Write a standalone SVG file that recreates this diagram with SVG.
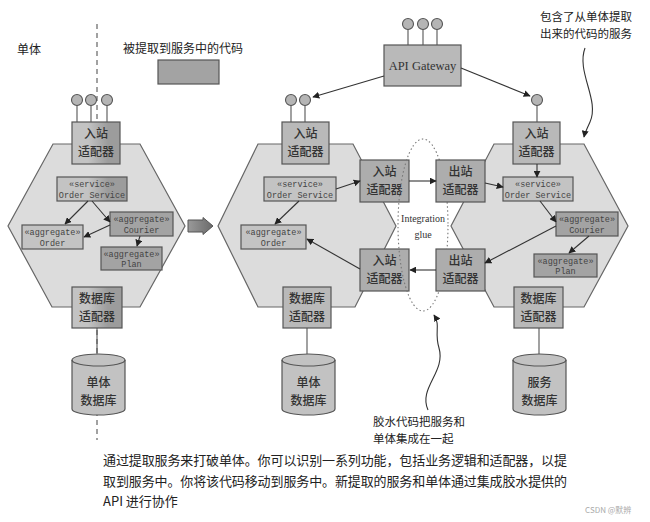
<svg xmlns="http://www.w3.org/2000/svg" width="650" height="522" viewBox="0 0 650 522">
<defs>
<style>
.hex{fill:#dcdcdc;stroke:#666;stroke-width:1.2}
.ad{fill:#b9b9b9;stroke:#555;stroke-width:1.2}
.adg{fill:#adadad;stroke:#555;stroke-width:1.2}
.bx{fill:#c3c3c3;stroke:#555;stroke-width:1.2}
.bxd{fill:#a3a3a3;stroke:#555;stroke-width:1.2}
.db{fill:#c2c2c2;stroke:#555;stroke-width:1.2}
.cn{fill:none;stroke:#333;stroke-width:1.1}
.stem{stroke:#555;stroke-width:1.1}
.lol{fill:#b5b5b5;stroke:#555;stroke-width:1.1}
.zh{font-family:"Noto Sans CJK SC","Noto Sans",sans-serif;fill:#222}
.ada{font-family:"Noto Sans CJK SC","Noto Sans",sans-serif;font-size:12px;font-weight:500;fill:#333;text-anchor:middle}
.mono{font-family:"Liberation Mono",monospace;font-size:8.5px;fill:#444;text-anchor:middle}
.ser{font-family:"Liberation Serif",serif;fill:#333;text-anchor:middle}
</style>
<marker id="ah" viewBox="0 0 10 10" refX="9" refY="5" markerWidth="7" markerHeight="7" markerUnits="userSpaceOnUse" orient="auto">
<path d="M0,0 L10,5 L0,10 z" fill="#222"/>
</marker>
<linearGradient id="split" gradientUnits="userSpaceOnUse" x1="88" y1="0" x2="108" y2="0">
<stop offset="0" stop-color="#c3c3c3"/>
<stop offset="1" stop-color="#9c9c9c"/>
</linearGradient>
<linearGradient id="bigarr" x1="0" y1="0" x2="1" y2="0">
<stop offset="0" stop-color="#9a9a9a"/>
<stop offset="1" stop-color="#6a6a6a"/>
</linearGradient>
</defs>
<rect width="650" height="522" fill="#ffffff"/>

<!-- legend / titles -->
<g id="title-monolith"><text class="zh" x="17" y="54" font-size="12">单体</text></g>
<g id="legend">
<text class="zh" x="123" y="53" font-size="12">被提取到服务中的代码</text>
<rect x="158" y="60" width="61" height="24" class="bxd" fill="#999"/>
</g>

<!-- dashed split line -->
<line x1="97" y1="24" x2="97" y2="440" stroke="#555" stroke-width="1.1" stroke-dasharray="5,4"/>

<!-- left monolith -->
<g id="monolith-before">
<polygon class="hex" points="53,144 140,144 185,226 140,307 52,307 8,226"/>
</g>
<g id="m1-inbound">
<line class="stem" x1="77" y1="105" x2="77" y2="122"/>
<line class="stem" x1="91" y1="105" x2="91" y2="122"/>
<line class="stem" x1="107" y1="105" x2="107" y2="122"/>
<circle class="lol" cx="77" cy="100" r="5.5"/>
<circle class="lol" cx="91" cy="100" r="5.5"/>
<circle class="lol" cx="107" cy="100" r="5.5"/>
<rect x="72" y="122" width="48" height="42" fill="url(#split)" stroke="#555" stroke-width="1.2"/>
<text class="ada" x="96" y="138">入站</text>
<text class="ada" x="96" y="156">适配器</text>
</g>
<g id="m1-service">
<rect x="57" y="177" width="70" height="24" fill="url(#split)" stroke="#555" stroke-width="1.2"/>
<text class="mono" x="92" y="187">«service»</text>
<text class="mono" x="92" y="198">Order Service</text>
</g>
<g id="m1-order">
<rect class="bx" x="22" y="225" width="61" height="24"/>
<text class="mono" x="52.5" y="235">«aggregate»</text>
<text class="mono" x="52.5" y="246">Order</text>
</g>
<g id="m1-courier">
<rect class="bxd" x="110" y="212" width="63" height="24"/>
<text class="mono" x="141.5" y="222">«aggregate»</text>
<text class="mono" x="141.5" y="233">Courier</text>
</g>
<g id="m1-plan">
<rect class="bxd" x="101" y="247" width="61" height="23"/>
<text class="mono" x="131.5" y="257">«aggregate»</text>
<text class="mono" x="131.5" y="267">Plan</text>
</g>
<g id="m1-dbadapter">
<rect x="72" y="287" width="50" height="41" fill="url(#split)" stroke="#555" stroke-width="1.2"/>
<text class="ada" x="97" y="303">数据库</text>
<text class="ada" x="97" y="321">适配器</text>
</g>
<g id="m1-db">
<path class="db" d="M72,360 v49 a26.5,6 0 0 0 53,0 v-49 a26.5,6 0 0 0 -53,0 z"/>
<path d="M72,360 a26.5,6 0 0 0 53,0" fill="none" stroke="#555" stroke-width="1.2"/>
<text class="ada" x="98.5" y="387">单体</text>
<text class="ada" x="98.5" y="405">数据库</text>
</g>

<!-- big arrow -->
<g id="transform-arrow">
<polygon points="188,220 203,220 203,217.5 213,226 203,234.5 203,232 188,232" fill="url(#bigarr)" stroke="#555" stroke-width="1"/>
</g>

<!-- middle monolith -->
<g id="monolith-after">
<polygon class="hex" points="258,144 353,144 396,226 355,307 258,307 218,226"/>
</g>
<g id="m2-inbound">
<line class="stem" x1="291" y1="105" x2="291" y2="122"/>
<line class="stem" x1="305" y1="105" x2="305" y2="122"/>
<circle class="lol" cx="291" cy="100" r="5.5"/>
<circle class="lol" cx="305" cy="100" r="5.5"/>
<rect class="ad" x="282" y="122" width="47" height="42"/>
<text class="ada" x="305.5" y="138">入站</text>
<text class="ada" x="305.5" y="156">适配器</text>
</g>
<g id="m2-service">
<rect class="bx" x="264" y="177" width="72" height="24"/>
<text class="mono" x="300" y="187">«service»</text>
<text class="mono" x="300" y="198">Order Service</text>
</g>
<g id="m2-order">
<rect class="bx" x="241" y="225" width="65" height="24"/>
<text class="mono" x="273.5" y="235">«aggregate»</text>
<text class="mono" x="273.5" y="246">Order</text>
</g>
<g id="m2-dbadapter">
<rect class="ad" x="283" y="287" width="48" height="41"/>
<text class="ada" x="307" y="303">数据库</text>
<text class="ada" x="307" y="321">适配器</text>
</g>
<g id="m2-glue-in-top">
<rect class="adg" x="360" y="160" width="49" height="42"/>
<text class="ada" x="384.5" y="176">入站</text>
<text class="ada" x="384.5" y="194">适配器</text>
</g>
<g id="m2-glue-in-bottom">
<rect class="adg" x="360" y="249" width="49" height="42"/>
<text class="ada" x="384.5" y="265">入站</text>
<text class="ada" x="384.5" y="283">适配器</text>
</g>
<g id="m2-db">
<path class="db" d="M282,360 v49 a26.5,6 0 0 0 53,0 v-49 a26.5,6 0 0 0 -53,0 z"/>
<path d="M282,360 a26.5,6 0 0 0 53,0" fill="none" stroke="#555" stroke-width="1.2"/>
<text class="ada" x="308.5" y="387">单体</text>
<text class="ada" x="308.5" y="405">数据库</text>
</g>

<!-- API gateway -->
<g id="api-gateway">
<line class="stem" x1="408" y1="29" x2="408" y2="45"/>
<line class="stem" x1="423" y1="29" x2="423" y2="45"/>
<line class="stem" x1="437" y1="29" x2="437" y2="45"/>
<circle class="lol" cx="408" cy="24" r="5.5"/>
<circle class="lol" cx="423" cy="24" r="5.5"/>
<circle class="lol" cx="437" cy="24" r="5.5"/>
<rect class="ad" x="384" y="45" width="77" height="41"/>
<text class="ser" x="422.5" y="70" font-size="12.5">API Gateway</text>
</g>

<!-- integration glue -->
<g id="integration-glue">
<ellipse cx="423" cy="225" rx="25" ry="86" fill="none" stroke="#777" stroke-width="1.1" stroke-dasharray="1.5,2.5"/>
<text class="ser" x="423" y="222" font-size="10">Integration</text>
<text class="ser" x="423" y="238" font-size="10">glue</text>
</g>

<!-- right service -->
<g id="service-after">
<polygon class="hex" points="494,144 584,144 628,226 584,307 494,307 451,226"/>
</g>
<g id="s-inbound">
<line class="stem" x1="537" y1="105" x2="537" y2="122"/>
<circle class="lol" cx="537" cy="100" r="5.5"/>
<rect class="ad" x="513" y="122" width="47" height="42"/>
<text class="ada" x="536.5" y="138">入站</text>
<text class="ada" x="536.5" y="156">适配器</text>
</g>
<g id="s-glue-out-top">
<rect class="adg" x="436" y="160" width="49" height="42"/>
<text class="ada" x="460.5" y="176">出站</text>
<text class="ada" x="460.5" y="194">适配器</text>
</g>
<g id="s-glue-out-bottom">
<rect class="adg" x="436" y="249" width="49" height="42"/>
<text class="ada" x="460.5" y="265">出站</text>
<text class="ada" x="460.5" y="283">适配器</text>
</g>
<g id="s-service">
<rect class="bx" x="503" y="177" width="70" height="24"/>
<text class="mono" x="538" y="187">«service»</text>
<text class="mono" x="538" y="198">Order Service</text>
</g>
<g id="s-courier">
<rect class="bxd" x="556" y="212" width="62" height="24"/>
<text class="mono" x="587" y="222">«aggregate»</text>
<text class="mono" x="587" y="233">Courier</text>
</g>
<g id="s-plan">
<rect class="bxd" x="534" y="254" width="63" height="23"/>
<text class="mono" x="565.5" y="264">«aggregate»</text>
<text class="mono" x="565.5" y="274">Plan</text>
</g>
<g id="s-dbadapter">
<rect class="ad" x="514" y="287" width="49" height="41"/>
<text class="ada" x="538.5" y="303">数据库</text>
<text class="ada" x="538.5" y="321">适配器</text>
</g>
<g id="s-db">
<path class="db" d="M513,360 v49 a26.5,6 0 0 0 53,0 v-49 a26.5,6 0 0 0 -53,0 z"/>
<path d="M513,360 a26.5,6 0 0 0 53,0" fill="none" stroke="#555" stroke-width="1.2"/>
<text class="ada" x="539.5" y="387">服务</text>
<text class="ada" x="539.5" y="405">数据库</text>
</g>

<!-- connectors -->
<g id="connectors">
<line class="cn" x1="88" y1="201" x2="65" y2="224" marker-end="url(#ah)"/>
<line class="cn" x1="92" y1="201" x2="110" y2="222" marker-end="url(#ah)"/>
<line class="cn" x1="110" y1="225" x2="84" y2="237" marker-end="url(#ah)"/>
<line class="cn" x1="140" y1="236" x2="137" y2="246" marker-end="url(#ah)"/>
<line class="stem" x1="97" y1="328" x2="97" y2="354"/>

<line class="cn" x1="299" y1="201" x2="275" y2="224" marker-end="url(#ah)"/>
<line class="cn" x1="336" y1="189" x2="360" y2="181" marker-end="url(#ah)"/>
<line class="cn" x1="409" y1="181" x2="436" y2="181" marker-end="url(#ah)"/>
<line class="cn" x1="436" y1="270" x2="410" y2="270" marker-end="url(#ah)"/>
<line class="cn" x1="360" y1="269" x2="307" y2="239" marker-end="url(#ah)"/>
<line class="stem" x1="307" y1="328" x2="307" y2="354"/>

<line class="cn" x1="384" y1="76" x2="313" y2="97" marker-end="url(#ah)"/>
<line class="cn" x1="461" y1="68" x2="530" y2="96" marker-end="url(#ah)"/>

<line class="cn" x1="537" y1="164" x2="537" y2="177" marker-end="url(#ah)"/>
<line class="cn" x1="485" y1="183" x2="503" y2="187" marker-end="url(#ah)"/>
<line class="cn" x1="540" y1="201" x2="556" y2="222" marker-end="url(#ah)"/>
<line class="cn" x1="556" y1="226" x2="485" y2="263" marker-end="url(#ah)"/>
<line class="cn" x1="589" y1="236" x2="569" y2="253" marker-end="url(#ah)"/>
<line class="stem" x1="539" y1="328" x2="539" y2="354"/>

<path class="cn" d="M585,48 C576,72 600,100 590,122 C587,129 585,132 584,137" marker-end="url(#ah)"/>
<path class="cn" d="M428,410 C418,388 446,372 439,348 C434,332 441,326 434,315" marker-end="url(#ah)"/>
</g>

<!-- annotations -->
<g id="note-service">
<text class="zh" x="540" y="21" font-size="11.5">包含了从单体提取</text>
<text class="zh" x="540" y="38" font-size="11.5">出来的代码的服务</text>
</g>
<g id="note-glue">
<text class="zh" x="373" y="426" font-size="11.5">胶水代码把服务和</text>
<text class="zh" x="373" y="443" font-size="11.5">单体集成在一起</text>
</g>
<g id="caption">
<text class="zh" x="103" y="465" font-size="13" textLength="464" lengthAdjust="spacing">通过提取服务来打破单体。你可以识别一系列功能，包括业务逻辑和适配器，以提</text>
<text class="zh" x="103" y="486" font-size="13" textLength="464" lengthAdjust="spacing">取到服务中。你将该代码移动到服务中。新提取的服务和单体通过集成胶水提供的</text>
<text class="zh" x="103" y="506" font-size="13">API 进行协作</text>
<text class="zh" x="585" y="513" font-size="8" style="fill:#aaa">CSDN @默辨</text>
</g>
</svg>
